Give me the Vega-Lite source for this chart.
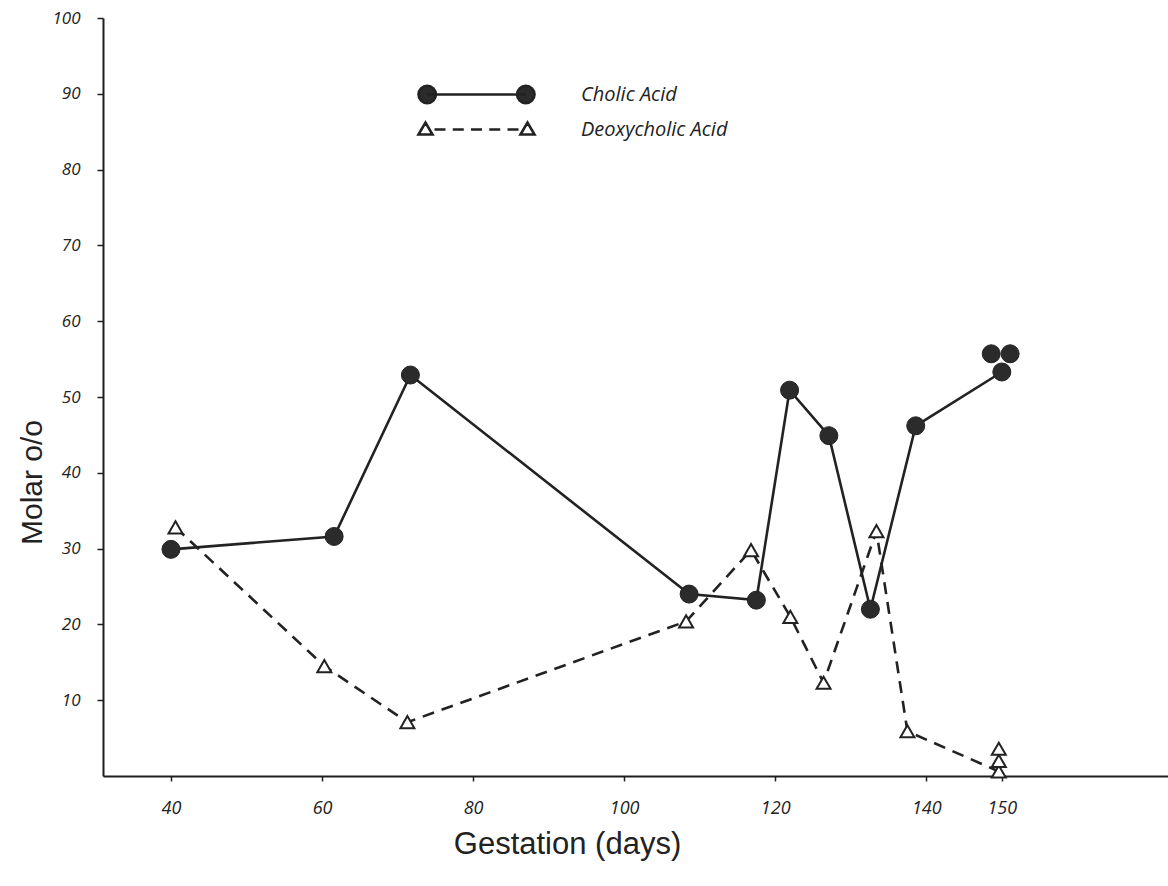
{
  "$schema": "https://vega.github.io/schema/vega-lite/v6.json",
  "width": 1065,
  "height": 758,
  "autosize": {"type": "none"},
  "padding": {"left": 103, "top": 18, "right": 0, "bottom": 110},
  "background": "white",
  "config": {
    "view": {"stroke": null},
    "axis": {"grid": false, "domainColor": "#1e1e1e", "domainWidth": 2, "tickColor": "#1e1e1e", "tickWidth": 1.5, "labelColor": "#222", "titleColor": "#222"}
  },
  "data": {"values": [
    {"series": "Cholic Acid", "day": 40, "value": 29.9, "connected": true},
    {"series": "Cholic Acid", "day": 61.6, "value": 31.6, "connected": true},
    {"series": "Cholic Acid", "day": 71.7, "value": 52.9, "connected": true},
    {"series": "Cholic Acid", "day": 108.6, "value": 24.0, "connected": true},
    {"series": "Cholic Acid", "day": 117.5, "value": 23.2, "connected": true},
    {"series": "Cholic Acid", "day": 121.9, "value": 50.9, "connected": true},
    {"series": "Cholic Acid", "day": 127.1, "value": 44.9, "connected": true},
    {"series": "Cholic Acid", "day": 132.6, "value": 22.0, "connected": true},
    {"series": "Cholic Acid", "day": 138.6, "value": 46.2, "connected": true},
    {"series": "Cholic Acid", "day": 150.0, "value": 53.3, "connected": true},
    {"series": "Cholic Acid", "day": 148.6, "value": 55.7, "connected": false},
    {"series": "Cholic Acid", "day": 151.1, "value": 55.7, "connected": false},
    {"series": "Deoxycholic Acid", "day": 40.6, "value": 32.8, "connected": true},
    {"series": "Deoxycholic Acid", "day": 60.3, "value": 14.5, "connected": true},
    {"series": "Deoxycholic Acid", "day": 71.3, "value": 7.1, "connected": true},
    {"series": "Deoxycholic Acid", "day": 108.2, "value": 20.4, "connected": true},
    {"series": "Deoxycholic Acid", "day": 116.8, "value": 29.8, "connected": true},
    {"series": "Deoxycholic Acid", "day": 122.0, "value": 21.0, "connected": true},
    {"series": "Deoxycholic Acid", "day": 126.4, "value": 12.3, "connected": true},
    {"series": "Deoxycholic Acid", "day": 133.4, "value": 32.3, "connected": true},
    {"series": "Deoxycholic Acid", "day": 137.5, "value": 5.9, "connected": true},
    {"series": "Deoxycholic Acid", "day": 149.6, "value": 0.6, "connected": true},
    {"series": "Deoxycholic Acid", "day": 149.6, "value": 2.0, "connected": false},
    {"series": "Deoxycholic Acid", "day": 149.6, "value": 3.6, "connected": false}
  ]},
  "encoding": {
    "x": {
      "field": "day", "type": "quantitative",
      "scale": {"domain": [31, 172], "nice": false, "zero": false},
      "axis": {
        "values": [40, 60, 80, 100, 120, 140, 150],
        "title": "Gestation (days)",
        "titleFont": "Liberation Sans", "titleFontSize": 31, "titleFontWeight": "normal",
        "titleX": 464, "titleY": 77, "titleAlign": "center", "titleBaseline": "alphabetic", "titleAnchor": null,
        "labelFont": "Open Sans", "labelFontStyle": "italic", "labelFontSize": 18, "labelPadding": 18,
        "tickSize": 5
      }
    },
    "y": {
      "field": "value", "type": "quantitative",
      "scale": {"domain": [0, 100], "nice": false},
      "axis": {
        "values": [10, 20, 30, 40, 50, 60, 70, 80, 90, 100],
        "title": "Molar    o/o",
        "titleFont": "Liberation Sans", "titleFontSize": 30, "titleFontWeight": "normal",
        "titleX": -62, "titleY": 464, "titleAngle": -90, "titleAlign": "center", "titleBaseline": "alphabetic", "titleAnchor": null,
        "labelFont": "Open Sans", "labelFontStyle": "italic", "labelFontSize": 17, "labelPadding": 17,
        "tickSize": 6
      }
    }
  },
  "layer": [
    {
      "transform": [{"filter": "datum.connected && datum.series === 'Cholic Acid'"}],
      "mark": {"type": "line", "strokeWidth": 2.6},
      "encoding": {
        "order": {"field": "day", "type": "quantitative"},
        "color": {
          "field": "series", "type": "nominal",
          "scale": {"domain": ["Cholic Acid", "Deoxycholic Acid"], "range": ["#222222", "#222222"]},
          "legend": {
            "orient": "none", "legendX": 362, "legendY": 65, "title": null,
            "symbolSize": 400, "rowPadding": 8, "labelOffset": 93,
            "labelFont": "Open Sans", "labelFontStyle": "italic", "labelFontSize": 20, "labelColor": "#222",
            "encode": {
              "symbols": {
                "update": {
                  "shape": {"signal": "datum.value === 'Cholic Acid' ? 'M-4.93,0L4.93,0M-5.8,0A0.87,0.87,0,1,0,-4.06,0A0.87,0.87,0,1,0,-5.8,0ZM4.06,0A0.87,0.87,0,1,0,5.8,0A0.87,0.87,0,1,0,4.06,0Z' : 'M-5.8,0.5L-5.1,-0.7L-4.4,0.5ZM4.4,0.5L5.1,-0.7L5.8,0.5ZM-4.2,0L-3.1,0M-2.375,0L-1.275,0M-0.55,0L0.55,0M1.275,0L2.375,0M3.1,0L4.2,0'"},
                  "fill": {"signal": "datum.value === 'Cholic Acid' ? '#2b2b2b' : '#ffffff'"},
                  "strokeWidth": {"value": 2.6},
                  "size": {"value": 400},
                  "opacity": {"value": 1}
                }
              }
            }
          }
        }
      }
    },
    {
      "transform": [{"filter": "datum.connected && datum.series === 'Deoxycholic Acid'"}],
      "mark": {"type": "line", "strokeWidth": 2.6, "strokeDash": [12, 8]},
      "encoding": {
        "order": {"field": "day", "type": "quantitative"},
        "color": {"field": "series", "type": "nominal"}
      }
    },
    {
      "transform": [{"filter": "datum.series === 'Cholic Acid'"}],
      "mark": {"type": "point", "shape": "circle", "filled": true, "fill": "#2b2b2b", "stroke": "#222", "strokeWidth": 1, "size": 324, "opacity": 1}
    },
    {
      "transform": [{"filter": "datum.series === 'Deoxycholic Acid'"}],
      "mark": {"type": "point", "shape": "triangle-up", "filled": false, "fill": "#ffffff", "stroke": "#222", "strokeWidth": 2, "size": 196, "opacity": 1}
    }
  ]
}
